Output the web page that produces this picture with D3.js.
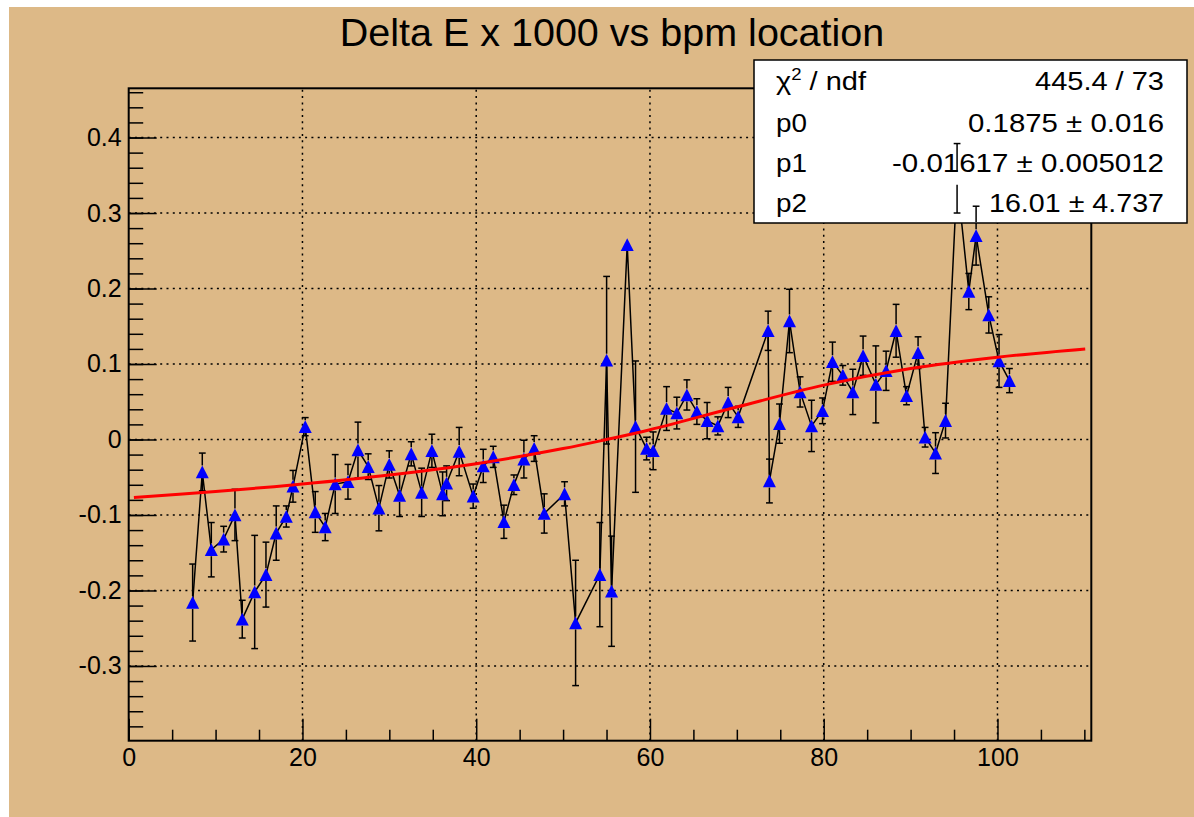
<!DOCTYPE html>
<html>
<head>
<meta charset="utf-8">
<script src="https://cdn.jsdelivr.net/npm/d3@7"></script>
<style>
  html, body { margin: 0; padding: 0; background: #fff; }
  svg { display: block; font-family: 'Liberation Sans', Arial, Helvetica, sans-serif; }
</style>
</head>
<body>
<svg id="chart" width="1194" height="817"></svg>
<script>
// bpm location (x), delta E x 1000 (y) and its error
var bpmX = [7.36, 8.47, 9.51, 10.93, 12.23, 13.07, 14.50, 15.80, 16.98, 18.14, 18.91, 20.32, 21.47, 22.62,
  23.77, 25.24, 26.39, 27.57, 28.80, 29.99, 31.18, 32.52, 33.72, 34.90, 36.13, 36.59, 38.04, 39.65,
  40.81, 41.96, 43.19, 44.34, 45.49, 46.67, 47.83, 50.17, 51.44, 54.23, 55.01, 55.58, 57.38, 58.34,
  59.61, 60.37, 61.91, 63.09, 64.25, 65.40, 66.58, 67.81, 69.00, 70.15, 73.60, 73.75, 74.91, 76.06,
  77.28, 78.60, 79.86, 81.01, 82.20, 83.35, 84.53, 86.00, 87.18, 88.33, 89.53, 90.86, 91.67, 92.87,
  94.02, 95.35, 96.70, 97.54, 99.00, 100.18, 101.38];
var deltaE = [-0.216, -0.043, -0.146, -0.132, -0.100, -0.238, -0.202, -0.179, -0.124, -0.102, -0.062, 0.017, -0.096, -0.116,
  -0.059, -0.056, -0.014, -0.036, -0.091, -0.033, -0.074, -0.019, -0.070, -0.015, -0.072, -0.058, -0.016, -0.075,
  -0.035, -0.023, -0.109, -0.060, -0.026, -0.012, -0.098, -0.072, -0.243, -0.179, 0.105, -0.201, 0.258, 0.017,
  -0.012, -0.015, 0.041, 0.035, 0.059, 0.037, 0.025, 0.018, 0.049, 0.030, 0.144, -0.055, 0.021, 0.157,
  0.063, 0.018, 0.038, 0.103, 0.085, 0.063, 0.111, 0.073, 0.091, 0.144, 0.058, 0.115, 0.003, -0.018,
  0.025, 0.346, 0.196, 0.270, 0.165, 0.104, 0.078];
var deltaErr = [0.051, 0.025, 0.036, 0.017, 0.034, 0.025, 0.075, 0.043, 0.036, 0.014, 0.021, 0.012, 0.027, 0.018,
  0.039, 0.023, 0.037, 0.017, 0.030, 0.018, 0.028, 0.016, 0.032, 0.022, 0.029, 0.023, 0.032, 0.016,
  0.022, 0.014, 0.022, 0.013, 0.025, 0.017, 0.026, 0.016, 0.083, 0.069, 0.111, 0.073, 0.005, 0.087,
  0.015, 0.025, 0.029, 0.021, 0.020, 0.017, 0.024, 0.012, 0.020, 0.014, 0.026, 0.029, 0.026, 0.042,
  0.020, 0.034, 0.017, 0.026, 0.013, 0.030, 0.026, 0.051, 0.026, 0.035, 0.012, 0.021, 0.013, 0.027,
  0.023, 0.046, 0.024, 0.039, 0.024, 0.035, 0.016];

// fitted curve
var fitX = [0.6, 10, 20, 30, 40, 50, 55, 60, 70, 80, 90, 100, 110.1];
var fitY = [-0.077, -0.069, -0.059, -0.047, -0.032, -0.012, 0.000, 0.013, 0.043, 0.072, 0.094, 0.109, 0.120];

var xMajor = [0, 20, 40, 60, 80, 100];
var xMinor = [5, 10, 15, 25, 30, 35, 45, 50, 55, 65, 70, 75, 85, 90, 95, 105, 110];
var yMajor = [-0.3, -0.2, -0.1, 0, 0.1, 0.2, 0.3, 0.4];
var yMajorLabels = ['-0.3', '-0.2', '-0.1', '0', '0.1', '0.2', '0.3', '0.4'];
var yMinor = d3.range(-38, 48, 2).map(function(d) { return d / 100; });

var statNames = ['p0', 'p1', 'p2'];
var statValues = ['445.4 / 73', '0.1875 \u00b1 0.016', '-0.01617 \u00b1 0.005012', '16.01 \u00b1 4.737'];
var statWidths = [129, 196, 272, 175];

var chartTitle = 'Delta E x 1000 vs bpm location';

var tan = '#ddb987';
var frameL = 128.7, frameR = 1091.3, frameT = 88.3, frameB = 740.7;

var x = d3.scaleLinear().domain([0, 110.8]).range([frameL, frameR]);
var y = d3.scaleLinear().domain([-0.399, 0.4652]).range([frameB, frameT]);

var svg = d3.select('#chart');

svg.append('rect')
  .attr('x', 9).attr('y', 7)
  .attr('width', 1185).attr('height', 810)
  .style('fill', tan);

svg.append('text')
  .attr('x', 612).attr('y', 46)
  .attr('text-anchor', 'middle')
  .attr('font-size', 39.5)
  .text(chartTitle);

/* grid */
var grid = svg.append('g')
  .style('stroke', '#000')
  .style('stroke-width', 1.5)
  .style('stroke-dasharray', '2,4.3');

xMajor.filter(function(d) { return d > 0; }).forEach(function(d) {
  grid.append('line')
    .attr('x1', x(d)).attr('x2', x(d))
    .attr('y1', frameB).attr('y2', frameT);
});
yMajor.forEach(function(d) {
  grid.append('line')
    .attr('x1', frameL).attr('x2', frameR)
    .attr('y1', y(d)).attr('y2', y(d));
});

/* axes, ROOT style ticks pointing inward */
var xAxis = svg.append('g')
  .attr('transform', 'translate(0,' + frameB + ')')
  .call(d3.axisBottom(x).tickValues(xMajor).tickSizeInner(-22).tickSizeOuter(0)
    .tickPadding(8).tickFormat(d3.format('d')));
var xAxisMinor = svg.append('g')
  .attr('transform', 'translate(0,' + frameB + ')')
  .call(d3.axisBottom(x).tickValues(xMinor).tickSizeInner(-11).tickSizeOuter(0).tickFormat(''));

var yAxis = svg.append('g')
  .attr('transform', 'translate(' + frameL + ',0)')
  .call(d3.axisLeft(y).tickValues(yMajor).tickSizeInner(-28).tickSizeOuter(0)
    .tickPadding(7).tickFormat(function(d, i) { return yMajorLabels[i]; }));
var yAxisMinor = svg.append('g')
  .attr('transform', 'translate(' + frameL + ',0)')
  .call(d3.axisLeft(y).tickValues(yMinor).tickSizeInner(-14.5).tickSizeOuter(0).tickFormat(''));

[xAxis, xAxisMinor, yAxis, yAxisMinor].forEach(function(ax) {
  ax.select('.domain').remove();
  ax.selectAll('line').style('stroke', '#000').style('stroke-width', 1.5);
  ax.selectAll('text')
    .style('fill', '#000')
    .attr('font-family', "'Liberation Sans', Arial, Helvetica, sans-serif")
    .attr('font-size', 25);
});

svg.append('rect')
  .attr('x', frameL).attr('y', frameT)
  .attr('width', frameR - frameL).attr('height', frameB - frameT)
  .style('fill', 'none')
  .style('stroke', '#000')
  .style('stroke-width', 2);

/* graph */
var pts = bpmX.map(function(d, i) { return { x: d, y: deltaE[i], e: deltaErr[i] }; });
var gap = 6.5, capW = 3.4;

var drawErrors = function drawErrors(g) {
  pts.forEach(function(p) {
    var cx = x(p.x), cy = y(p.y);
    var top = y(p.y + p.e), bot = y(p.y - p.e);
    if (cy - top <= gap) {
      return;
    }
    g.append('line').attr('x1', cx).attr('x2', cx).attr('y1', top).attr('y2', cy - gap);
    g.append('line').attr('x1', cx).attr('x2', cx).attr('y1', cy + gap).attr('y2', bot);
    g.append('line').attr('x1', cx - capW).attr('x2', cx + capW).attr('y1', top).attr('y2', top);
    g.append('line').attr('x1', cx - capW).attr('x2', cx + capW).attr('y1', bot).attr('y2', bot);
  });
};

var errG = svg.append('g').style('stroke', '#000').style('stroke-width', 1.5);
drawErrors(errG);

svg.append('path')
  .datum(pts)
  .attr('d', d3.line().x(function(p) { return x(p.x); }).y(function(p) { return y(p.y); }))
  .style('fill', 'none')
  .style('stroke', '#000')
  .style('stroke-width', 1.5);

var triangle = function triangle(p) {
  var cx = x(p.x), cy = y(p.y);
  return 'M' + (cx - 6.5) + ',' + (cy + 6.3) +
    'L' + (cx + 6.5) + ',' + (cy + 6.3) +
    'L' + cx + ',' + (cy - 6.5) + 'Z';
};
svg.append('g').selectAll('path')
  .data(pts)
  .enter().append('path')
  .attr('d', triangle)
  .style('fill', '#0000ff');

/* fit */
svg.append('path')
  .datum(fitX.map(function(d, i) { return [d, fitY[i]]; }))
  .attr('d', d3.line().curve(d3.curveCatmullRom)
    .x(function(d) { return x(d[0]); })
    .y(function(d) { return y(d[1]); }))
  .style('fill', 'none')
  .style('stroke', '#ff0000')
  .style('stroke-width', 3);

/* stats box */
var boxX = 754, boxY = 60, boxW = 433, boxH = 163;
svg.append('rect')
  .attr('x', boxX).attr('y', boxY)
  .attr('width', boxW).attr('height', boxH)
  .style('fill', '#fff')
  .style('stroke', '#000')
  .style('stroke-width', 1.5);

var rowY = [89.5, 131.5, 171.7, 212.3];
var stats = svg.append('g').attr('font-size', 25).style('fill', '#000');
var chi = stats.append('text').attr('x', 776).attr('y', rowY[0]).attr('textLength', 90)
  .attr('lengthAdjust', 'spacingAndGlyphs');
chi.append('tspan').text('\u03c7');
chi.append('tspan').attr('font-size', 16).attr('dy', -10).text('2');
chi.append('tspan').attr('dy', 10).text(' / ndf');
statNames.forEach(function(name, i) {
  stats.append('text')
    .attr('x', 776).attr('y', rowY[i + 1])
    .attr('textLength', 31).attr('lengthAdjust', 'spacingAndGlyphs')
    .text(name);
});
statValues.forEach(function(v, i) {
  stats.append('text')
    .attr('x', 1164 - statWidths[i]).attr('y', rowY[i])
    .attr('textLength', statWidths[i]).attr('lengthAdjust', 'spacingAndGlyphs')
    .text(v);
});

/* error bars show over the stats box */
svg.append('clipPath').attr('id', 'boxClip')
  .append('rect')
  .attr('x', boxX + 1).attr('y', boxY + 1)
  .attr('width', boxW - 2).attr('height', boxH - 2);
var errTop = svg.append('g')
  .attr('clip-path', 'url(#boxClip)')
  .style('stroke', '#000')
  .style('stroke-width', 1.5);
drawErrors(errTop);
</script>
</body>
</html>
